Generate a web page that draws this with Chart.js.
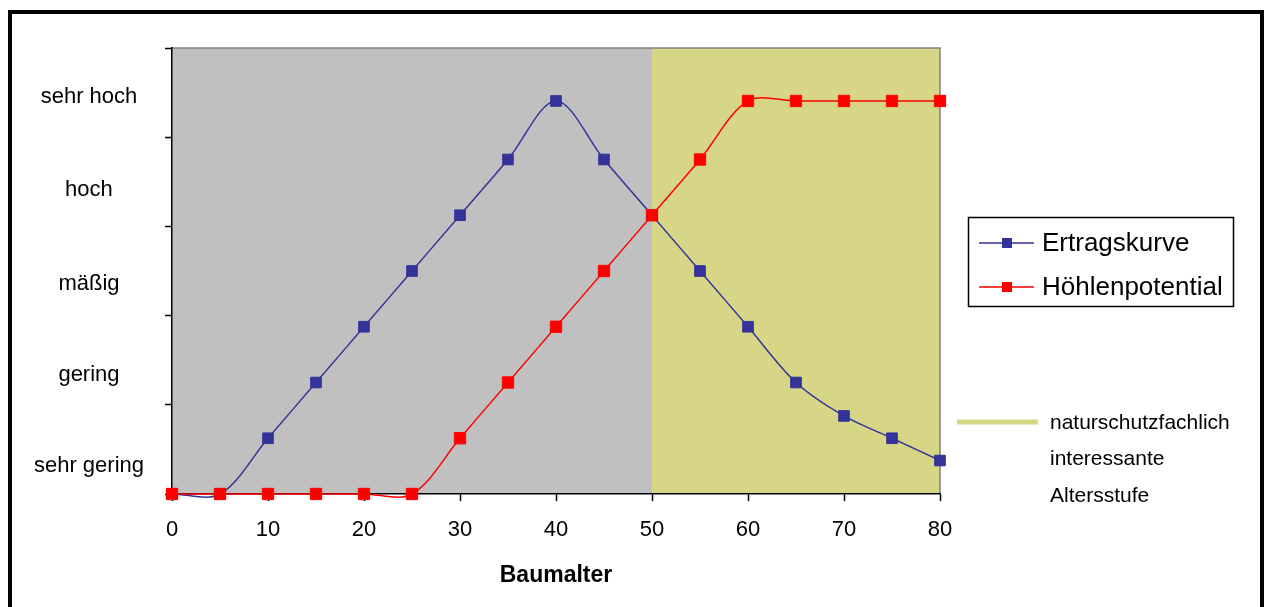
<!DOCTYPE html>
<html>
<head>
<meta charset="utf-8">
<script src="https://cdn.jsdelivr.net/npm/chart.js@4.4.1/dist/chart.umd.min.js"></script>
<style>
  html, body { margin: 0; padding: 0; background: #fff; overflow: hidden; }
  #frame { position: absolute; left: 8px; top: 10px; width: 1256px; height: 700px; border: 4px solid #000; box-sizing: border-box; }
  #wrap { position: absolute; left: 0; top: 0; width: 1264px; height: 607px; }
</style>
</head>
<body>
<div id="frame"></div>
<div id="wrap"><canvas id="chart" width="1264" height="607"></canvas></div>
<script>
// Baumalter (x)
const years = [0, 5, 10, 15, 20, 25, 30, 35, 40, 45, 50, 55, 60, 65, 70, 75, 80];
// Werte auf einer Skala 0..8
const ertragskurve = [0, 0, 1, 2, 3, 4, 5, 6, 7.05, 6, 5, 4, 3, 2, 1.4, 1, 0.6];
const hoehlenpotential = [0, 0, 0, 0, 0, 0, 1, 2, 3, 4, 5, 6, 7.05, 7.05, 7.05, 7.05, 7.05];

// Beschriftung der y-Achse
const levelLabels = ["sehr gering", "gering", "mäßig", "hoch", "sehr hoch"];
const levelPositions = [0.5, 2.13, 3.76, 5.46, 7.12];
const tickMarks = [0, 1.6, 3.2, 4.8, 6.4, 8];

// Hintergrund-Bereiche
const bandFrom = [0, 50];
const bandTo = [50, 80];
const bandColors = ["#c0c0c0", "#d6d686"];

const noteLines = ["naturschutzfachlich", "interessante", "Altersstufe"];

const FONT = "'Liberation Sans', Arial, sans-serif";

function toPoints(values) {
  return years.map((x, i) => ({ x: x, y: values[i] }));
}

const bandsPlugin = {
  id: "bands",
  beforeDraw(chart) {
    const ctx = chart.ctx;
    const area = chart.chartArea;
    const xs = chart.scales.x;
    ctx.save();
    for (let i = 0; i < bandFrom.length; i++) {
      const x1 = xs.getPixelForValue(bandFrom[i]);
      const x2 = xs.getPixelForValue(bandTo[i]);
      ctx.fillStyle = bandColors[i];
      ctx.fillRect(x1, area.top, x2 - x1, area.bottom - area.top);
    }
    // grauer Rahmen oben und rechts
    ctx.strokeStyle = "#808080";
    ctx.lineWidth = 1.5;
    ctx.beginPath();
    ctx.moveTo(area.left, area.top);
    ctx.lineTo(area.right, area.top);
    ctx.lineTo(area.right, area.bottom);
    ctx.stroke();
    ctx.restore();
  }
};

const legendPlugin = {
  id: "boxLegend",
  afterDraw(chart) {
    const ctx = chart.ctx;
    ctx.save();
    ctx.strokeStyle = "#000";
    ctx.lineWidth = 1.5;
    ctx.strokeRect(968.5, 217.5, 265, 89);

    chart.data.datasets.forEach((ds, i) => {
      const y = 243 + i * 44;
      ctx.strokeStyle = ds.borderColor;
      ctx.lineWidth = 1.5;
      ctx.beginPath();
      ctx.moveTo(979, y);
      ctx.lineTo(1034, y);
      ctx.stroke();
      ctx.fillStyle = ds.pointBackgroundColor;
      ctx.fillRect(1002, y - 5, 10, 10);
      ctx.fillStyle = "#000";
      ctx.font = "26px " + FONT;
      ctx.textBaseline = "middle";
      ctx.textAlign = "left";
      ctx.fillText(ds.label, 1042, y + 1);
    });

    // gelbe Linie mit Erklärung
    ctx.strokeStyle = bandColors[1];
    ctx.lineWidth = 5;
    ctx.beginPath();
    ctx.moveTo(957, 422);
    ctx.lineTo(1038, 422);
    ctx.stroke();
    ctx.fillStyle = "#000";
    ctx.font = "21px " + FONT;
    ctx.textBaseline = "middle";
    noteLines.forEach((t, i) => {
      ctx.fillText(t, 1050, 423 + i * 36.5);
    });
    ctx.restore();
  }
};

new Chart(document.getElementById("chart"), {
  type: "line",
  data: {
    datasets: [
      {
        label: "Ertragskurve",
        data: toPoints(ertragskurve),
        borderColor: "#333399",
        backgroundColor: "#333399",
        pointBackgroundColor: "#333399",
        pointBorderColor: "#333399",
        borderWidth: 1.5,
        pointStyle: "rect",
        pointRadius: 7.5,
        pointBorderWidth: 1,
        tension: 0.33,
        order: 1,
        clip: false
      },
      {
        label: "Höhlenpotential",
        data: toPoints(hoehlenpotential),
        borderColor: "#ff0000",
        backgroundColor: "#ff0000",
        pointBackgroundColor: "#ff0000",
        pointBorderColor: "#ff0000",
        borderWidth: 1.5,
        pointStyle: "rect",
        pointRadius: 8,
        pointBorderWidth: 1,
        tension: 0.33,
        order: 0,
        clip: false
      }
    ]
  },
  options: {
    responsive: false,
    animation: false,
    events: [],
    elements: { line: { capBezierPoints: false } },
    layout: { padding: { top: 48, right: 324, left: 0, bottom: 0 } },
    plugins: {
      legend: { display: false },
      tooltip: { enabled: false }
    },
    scales: {
      x: {
        type: "linear",
        min: 0,
        max: 80,
        afterFit(scale) { scale.height = 113; },
        ticks: {
          stepSize: 10,
          color: "#000",
          padding: 16,
          font: { family: FONT, size: 22 }
        },
        grid: {
          drawOnChartArea: false,
          tickLength: 7,
          tickColor: "#000",
          tickWidth: 1.5
        },
        border: { color: "#000", width: 1.5 },
        title: {
          display: true,
          text: "Baumalter",
          color: "#000",
          font: { family: FONT, size: 23, weight: "bold" },
          padding: { top: 0, bottom: 18 }
        }
      },
      y: {
        type: "linear",
        min: 0,
        max: 8,
        afterFit(scale) { scale.width = 172; },
        afterBuildTicks(scale) {
          const vals = tickMarks.concat(levelPositions).sort((a, b) => a - b);
          scale.ticks = vals.map(v => ({ value: v }));
        },
        ticks: {
          color: "#000",
          crossAlign: "center",
          padding: 21,
          font: { family: FONT, size: 22 },
          callback(value) {
            const i = levelPositions.indexOf(value);
            return i >= 0 ? levelLabels[i] : "";
          }
        },
        grid: {
          drawOnChartArea: false,
          tickLength: 7,
          tickWidth: 1.5,
          tickColor(ctx) {
            return ctx.tick && levelPositions.indexOf(ctx.tick.value) >= 0 ? "rgba(0,0,0,0)" : "#000";
          }
        },
        border: { color: "#000", width: 1.5 }
      }
    }
  },
  plugins: [bandsPlugin, legendPlugin]
});
</script>
</body>
</html>
